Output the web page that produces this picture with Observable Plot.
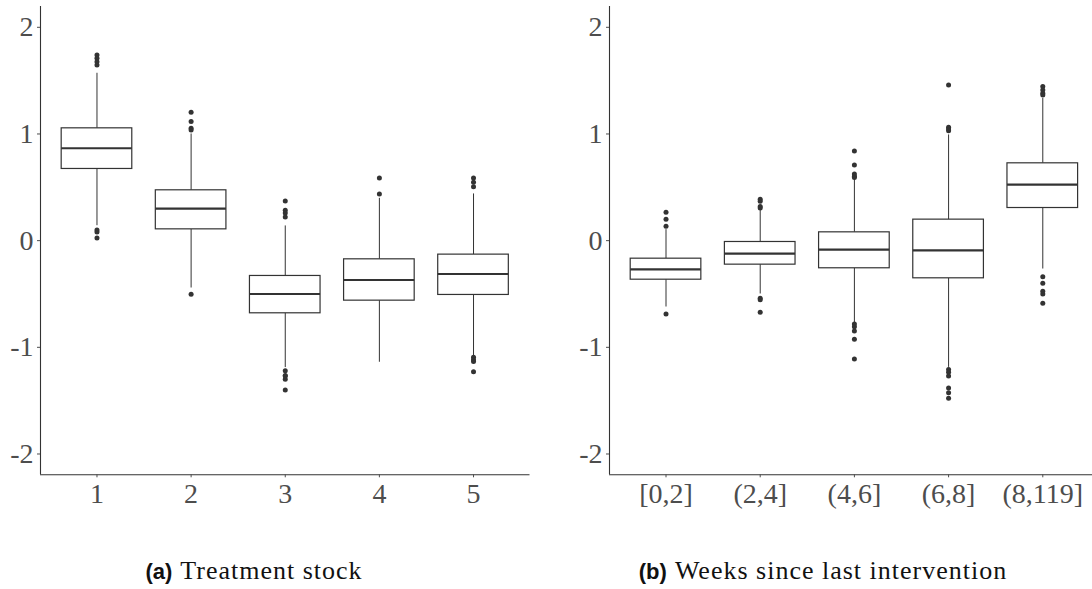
<!DOCTYPE html>
<html><head><meta charset="utf-8">
<script src="https://cdn.jsdelivr.net/npm/d3@7"></script>
<script src="https://cdn.jsdelivr.net/npm/@observablehq/plot@0.6"></script>
<style>
body{margin:0;background:#fff;overflow:hidden;width:1092px;height:589px;position:relative}
#a{position:absolute;left:0;top:0}
#b{position:absolute;left:546px;top:0}
#a svg text,#b svg text{font-family:"Liberation Serif","Times New Roman",serif !important;font-size:28px !important;fill:#4d4d4d}
.cap{position:absolute;top:558px;line-height:26px;white-space:nowrap;transform:translateX(-50%);font-family:"Liberation Serif","Times New Roman",serif;font-size:26px;letter-spacing:1px;color:#111}
.cap b{font-family:"Liberation Sans",Arial,sans-serif;font-weight:bold;font-size:22px;letter-spacing:0;margin-right:8px}
</style></head><body>
<div id="a"></div><div id="b"></div>
<div class="cap" style="left:254px"><b>(a)</b>Treatment stock</div>
<div class="cap" style="left:823px"><b>(b)</b>Weeks since last intervention</div>
<script>
// Panel (a): Treatment stock
const stockCats = ["1", "2", "3", "4", "5"];
const stockLow  = [0.14, -0.444, -1.19, -1.14, -1.078];
const stockQ1   = [0.672, 0.106, -0.681, -0.5625, -0.509];
const stockMed  = [0.866, 0.30, -0.50, -0.369, -0.3125];
const stockQ3   = [1.053, 0.472, -0.331, -0.175, -0.131];
const stockHigh = [1.569, 1.0, 0.138, 0.397, 0.438];
const stockOut  = [
  [1.741, 1.709, 1.678, 1.647, 0.10, 0.081, 0.025],
  [1.203, 1.116, 1.053, 1.038, -0.503],
  [0.372, 0.284, 0.259, 0.222, -1.219, -1.263, -1.269, -1.30, -1.40],
  [0.588, 0.438],
  [0.588, 0.547, 0.506, -1.094, -1.116, -1.134, -1.228]
];

// Panel (b): Weeks since last intervention
const weekCats = ["[0,2]", "(2,4]", "(4,6]", "(6,8]", "(8,119]"];
const weekLow  = [-0.622, -0.50, -0.769, -1.188, -0.266];
const weekQ1   = [-0.366, -0.225, -0.259, -0.353, 0.306];
const weekMed  = [-0.269, -0.122, -0.084, -0.091, 0.525];
const weekQ3   = [-0.169, -0.0125, 0.078, 0.197, 0.725];
const weekHigh = [0.103, 0.328, 0.584, 0.991, 1.334];
const weekOut  = [
  [0.266, 0.2, 0.134, -0.687],
  [0.387, 0.369, 0.319, 0.306, -0.541, -0.553, -0.672],
  [0.841, 0.709, 0.625, 0.603, 0.591, -0.781, -0.806, -0.847, -0.925, -1.109],
  [1.459, 1.063, 1.047, 1.031, -1.209, -1.234, -1.269, -1.381, -1.425, -1.478],
  [1.444, 1.413, 1.381, 1.366, -0.3375, -0.40, -0.475, -0.50, -0.588]
];

const yTicks = [-2, -1, 0, 1, 2];
const yDomain = [-2.195, 2.195];
const xDomain = [0.4, 5.6];

function panel(cats, low, q1, med, q3, high, outs, xRange, marginLeft, marginRight) {
  const boxes = cats.map((c, k) => ({i: k + 1, low: low[k], q1: q1[k], med: med[k], q3: q3[k], high: high[k]}));
  const pts = outs.flatMap((arr, k) => arr.map(v => ({i: k + 1, v})));
  const half = 0.375;
  const ink = "#333333";
  return Plot.plot({
    width: 546, height: 520,
    marginLeft, marginRight, marginTop: 6, marginBottom: 45.7,
    style: {fontFamily: "Liberation Serif", fontSize: "28px", overflow: "visible"},
    x: {domain: xDomain, range: xRange, label: null},
    y: {domain: yDomain, range: [474.3, 6], label: null},
    marks: [
      Plot.ruleX(boxes, {x: "i", y1: "low", y2: "q1", stroke: ink, strokeWidth: 1}),
      Plot.ruleX(boxes, {x: "i", y1: "q3", y2: "high", stroke: ink, strokeWidth: 1}),
      Plot.rect(boxes, {x1: d => d.i - half, x2: d => d.i + half, y1: "q1", y2: "q3", fill: "white", stroke: ink, strokeWidth: 1.2}),
      Plot.ruleY(boxes, {y: "med", x1: d => d.i - half, x2: d => d.i + half, stroke: ink, strokeWidth: 2.2}),
      Plot.dot(pts, {x: "i", y: "v", r: 2.5, fill: ink, stroke: null}),
      Plot.ruleX([xDomain[0]], {stroke: ink, strokeWidth: 1.1}),
      Plot.ruleY([yDomain[0]], {stroke: ink, strokeWidth: 1.1}),
      Plot.axisY({ticks: yTicks, tickFormat: d => String(d), tickSize: 3, tickPadding: 4,
        fontSize: 28, fontFamily: "Liberation Serif", color: "#4d4d4d", label: null}),
      Plot.axisX({ticks: [1, 2, 3, 4, 5], tickFormat: i => cats[i - 1], tickSize: 3, tickPadding: 5,
        fontSize: 28, fontFamily: "Liberation Serif", color: "#4d4d4d", label: null})
    ]
  });
}

document.getElementById("a").append(
  panel(stockCats, stockLow, stockQ1, stockMed, stockQ3, stockHigh, stockOut, [40, 529.5], 40, 16.5));
document.getElementById("b").append(
  panel(weekCats, weekLow, weekQ1, weekMed, weekQ3, weekHigh, weekOut, [63, 552.8], 63, 0));
</script>
</body></html>
